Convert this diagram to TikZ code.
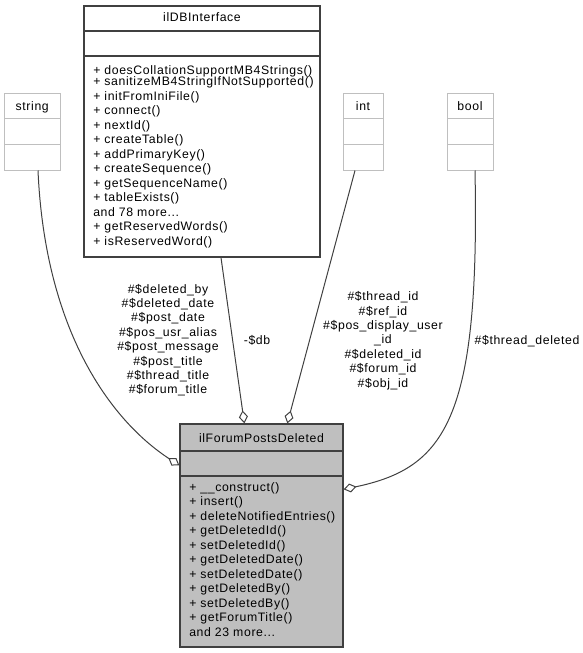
\documentclass[tikz,border=0pt]{standalone}
\usepackage{fontspec}
\setmainfont{Liberation Sans}[LetterSpace=5]
\usetikzlibrary{arrows.meta,fit,calc}
\definecolor{edgec}{HTML}{404040}
\definecolor{lightb}{HTML}{BFBFBF}
\definecolor{mainfill}{HTML}{BFBFBF}
\definecolor{mainb}{HTML}{404040}
\begin{document}
\begin{tikzpicture}[x=0.75pt,y=-0.75pt,
  txt/.style={inner sep=0pt, font=\fontsize{9.2pt}{10.9pt}\selectfont},
  lbl/.style={inner sep=0pt, font=\fontsize{9.2pt}{10.8pt}\selectfont},
  lightbox/.style={draw=lightb, line width=0.75pt, inner sep=0pt},
  lightsep/.style={draw=lightb, line width=0.75pt},
  mainbox/.style={draw=mainb, line width=1pt, inner sep=0pt},
  mainsep/.style={draw=mainb, line width=1pt},
  conn/.style={draw=edgec, line width=0.75pt, -{Diamond[open,length=9.75pt,width=6.75pt]}},
]
\useasboundingbox (0,0) rectangle (582,653);

% ---- string
\node[lightbox, fit={(4.5,93) (60,170)}] (string) {};
\draw[lightsep] (4.5,118) -- (60,118);
\draw[lightsep] (4.5,144) -- (60,144);
\node[txt, anchor=base] (stringT) at (32.25,110) {string};

% ---- int
\node[lightbox, fit={(343,93) (383,170)}] (int) {};
\draw[lightsep] (343,118) -- (383,118);
\draw[lightsep] (343,144) -- (383,144);
\node[txt, anchor=base] (intT) at (363,110) {int};

% ---- bool
\node[lightbox, fit={(447,93) (493,170)}] (bool) {};
\draw[lightsep] (447,118) -- (493,118);
\draw[lightsep] (447,144) -- (493,144);
\node[txt, anchor=base] (boolT) at (470,110) {bool};

% ---- ilDBInterface
\node[mainbox, fit={(84,6) (320,257)}] (db) {};
\draw[mainsep] (84,31) -- (320,31);
\draw[mainsep] (84,56) -- (320,56);
\node[txt, anchor=base] (dbT) at (202,21.5) {ilDBInterface};
\node[txt, anchor=base west] (dbM) at (93,74) {\begin{tabular}[t]{@{}l@{}}
+ doesCollationSupportMB4Strings()\\[-2.65pt]
+ sanitizeMB4StringIfNotSupported()\\[0.35pt]
+ initFromIniFile()\\
+ connect()\\
+ nextId()\\
+ createTable()\\
+ addPrimaryKey()\\
+ createSequence()\\
+ getSequenceName()\\
+ tableExists()\\
and 78 more...\\
+ getReservedWords()\\
+ isReservedWord()
\end{tabular}};

% ---- ilForumPostsDeleted
\node[mainbox, fill=mainfill, fit={(180,424) (343,647)}] (fpd) {};
\draw[mainsep] (180,451) -- (343,451);
\draw[mainsep] (180,476) -- (343,476);
\node[txt, anchor=base] (fpdT) at (261.5,442) {ilForumPostsDeleted};
\node[txt, anchor=base west] (fpdM) at (189,491) {\begin{tabular}[t]{@{}l@{}}
+ \_\_construct()\\
+ insert()\\
+ deleteNotifiedEntries()\\
+ getDeletedId()\\
+ setDeletedId()\\
+ getDeletedDate()\\
+ setDeletedDate()\\
+ getDeletedBy()\\
+ setDeletedBy()\\
+ getForumTitle()\\
and 23 more...
\end{tabular}};

% ---- connectors
\draw[conn] ($(string.south)+(5.75,0)$) .. controls (45,330) and (110,420) .. ($(fpd.north west)+(0,42)$);
\draw[conn] ($(db.south)+(19,0)$) -- ($(fpd.north west)+(65,0)$);
\draw[conn] ($(int.south)+(-8,0)$) -- ($(fpd.north west)+(108,0)$);
\draw[conn] ($(bool.south)+(5,0)$) .. controls (480,420) and (445,468) .. ($(fpd.north east)+(0,66)$);

% ---- labels
\node[lbl, anchor=base] (lstring) at (168,293) {\begin{tabular}[t]{@{}c@{}}
\#\$deleted\_by\\
\#\$deleted\_date\\
\#\$post\_date\\
\#\$pos\_usr\_alias\\
\#\$post\_message\\
\#\$post\_title\\
\#\$thread\_title\\
\#\$forum\_title
\end{tabular}};
\node[lbl, anchor=base] (ldb) at (257,344) {-\$db};
\node[lbl, anchor=base] (lint) at (383,300.7) {\begin{tabular}[t]{@{}c@{}}
\#\$thread\_id\\
\#\$ref\_id\\
\#\$pos\_display\_user\\
\_id\\
\#\$deleted\_id\\
\#\$forum\_id\\
\#\$obj\_id
\end{tabular}};
\node[lbl, anchor=base] (lbool) at (527,344) {\#\$thread\_deleted};
\end{tikzpicture}
\end{document}
